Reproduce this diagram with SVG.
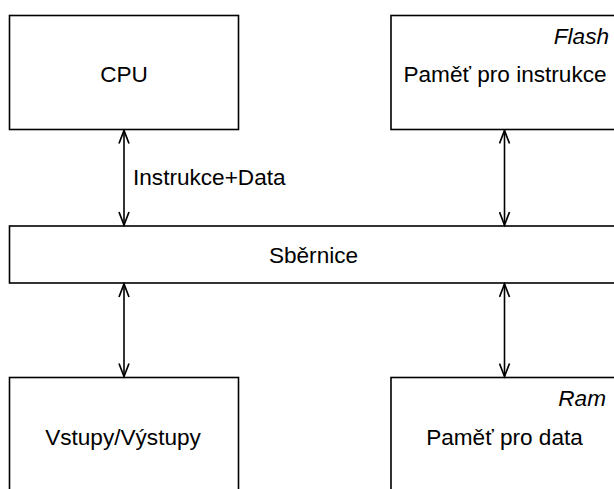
<svg xmlns="http://www.w3.org/2000/svg" width="614" height="489" viewBox="0 0 614 489">
<style>
.box{fill:#fff;stroke:#000;stroke-width:1.6}
.t{font-family:"Liberation Sans",Arial,sans-serif;font-size:22.6px;fill:#000}
.c{text-anchor:middle}
.i{font-style:italic;text-anchor:end}
.conn{stroke:#000;stroke-width:1.6;fill:none;marker-start:url(#arr);marker-end:url(#arr)}
</style>
<defs>
<marker id="arr" markerUnits="userSpaceOnUse" markerWidth="16" markerHeight="12" refX="14" refY="6" orient="auto-start-reverse">
<path d="M1,1 L14,6 L1,11" fill="none" stroke="#000" stroke-width="1.7"/>
</marker>
</defs>
<rect width="614" height="489" fill="#fff"/>
<g id="cpu">
<rect class="box" x="9.5" y="15.5" width="229" height="114"/>
<text class="t c" x="124" y="82">CPU</text>
</g>
<g id="flash">
<rect class="box" x="391" y="15.5" width="229" height="114"/>
<text class="t i" x="609" y="44">Flash</text>
<text class="t c" x="505" y="82">Paměť pro instrukce</text>
</g>
<g id="bus">
<rect class="box" x="9.5" y="226" width="609" height="57"/>
<text class="t c" x="313.5" y="262.5">Sběrnice</text>
</g>
<g id="io">
<rect class="box" x="9.5" y="377.5" width="229" height="130"/>
<text class="t c" x="123" y="445">Vstupy/Výstupy</text>
</g>
<g id="ram">
<rect class="box" x="391" y="377.5" width="229" height="130"/>
<text class="t i" x="606" y="406">Ram</text>
<text class="t c" x="504.5" y="445">Paměť pro data</text>
</g>
<g id="connectors">
<line class="conn" x1="124" y1="130.5" x2="124" y2="225"/>
<line class="conn" x1="504.5" y1="130.5" x2="504.5" y2="225"/>
<line class="conn" x1="124" y1="284" x2="124" y2="376.5"/>
<line class="conn" x1="504.5" y1="284" x2="504.5" y2="376.5"/>
<text class="t" x="133" y="185">Instrukce+Data</text>
</g>
</svg>
